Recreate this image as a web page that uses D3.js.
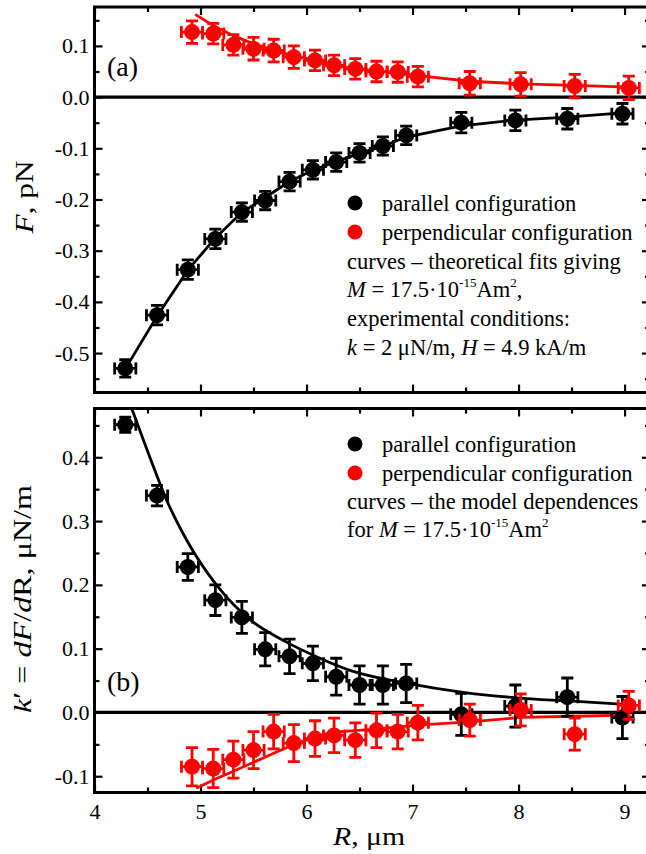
<!DOCTYPE html>
<html lang="en">
<head>
<meta charset="UTF-8">
<title>Force and stiffness vs distance</title>
<script src="https://cdnjs.cloudflare.com/ajax/libs/d3/7.8.5/d3.min.js"></script>
<style>
  body { margin: 0; background: #fff; }
  svg { display: block; font-family: "Liberation Serif", "Times New Roman", serif; }
  .frame { fill: none; stroke: #000; stroke-width: 3px; }
  .tick line { stroke: #000; stroke-width: 2.2px; }
  .tick text { font-size: 22px; fill: #000; }
  .zero { stroke: #000; stroke-width: 3.2px; }
  .fit { fill: none; stroke-width: 2.8px; }
  .err { stroke-width: 2.8px; fill: none; }
  .legend { font-size: 22.5px; }
</style>
</head>
<body>
<svg id="chart" width="646" height="854"></svg>
<script>
// distances R, um
const R_PAR  = [4.29, 4.59, 4.88, 5.14, 5.39, 5.61, 5.84, 6.06, 6.28, 6.50, 6.72, 6.94, 7.46, 7.97, 8.46, 8.98];
const R_PERP = [4.92, 5.12, 5.31, 5.50, 5.69, 5.88, 6.08, 6.26, 6.46, 6.66, 6.86, 7.05, 7.54, 8.02, 8.53, 9.04];
const R_ERR = 0.1;

// (a) force F, pN
const F_PAR      = [-0.530, -0.426, -0.337, -0.277, -0.2245, -0.202, -0.165, -0.142, -0.127, -0.109, -0.0955, -0.0748, -0.050, -0.0455, -0.0423, -0.0325];
const F_PAR_ERR  = [0.017, 0.019, 0.019, 0.019, 0.018, 0.018, 0.018, 0.018, 0.018, 0.018, 0.018, 0.018, 0.020, 0.020, 0.020, 0.020];
const F_PERP     = [0.127, 0.124, 0.102, 0.0945, 0.091, 0.078, 0.0717, 0.062, 0.055, 0.050, 0.049, 0.040, 0.027, 0.025, 0.0215, 0.018];
const F_PERP_ERR = [0.022, 0.020, 0.020, 0.022, 0.022, 0.022, 0.020, 0.020, 0.020, 0.020, 0.020, 0.020, 0.023, 0.023, 0.023, 0.023];

const F_PAR_FIT_R  = [4.31, 4.59, 4.88, 5.14, 5.39, 5.61, 5.84, 6.06, 6.28, 6.50, 6.72, 6.94, 7.46, 7.97, 8.46, 8.98];
const F_PAR_FIT    = [-0.524, -0.428, -0.338, -0.275, -0.225, -0.196, -0.165, -0.143, -0.126, -0.110, -0.096, -0.078, -0.056, -0.045, -0.039, -0.031];
const F_PERP_FIT_R = [4.95, 5.12, 5.31, 5.50, 5.69, 5.88, 6.08, 6.26, 6.46, 6.66, 6.86, 7.05, 7.54, 8.02, 8.53, 9.04];
const F_PERP_FIT   = [0.1615, 0.140, 0.120, 0.104, 0.091, 0.081, 0.072, 0.062, 0.055, 0.051, 0.047, 0.042, 0.031, 0.026, 0.023, 0.0195];

// (b) stiffness k' = dF/dR, uN/m
const K_PAR      = [0.451, 0.340, 0.228, 0.176, 0.149, 0.099, 0.088, 0.077, 0.056, 0.043, 0.043, 0.0455, -0.003, 0.010, 0.024, -0.008];
const K_PAR_ERR  = [0.012, 0.016, 0.021, 0.024, 0.025, 0.026, 0.027, 0.027, 0.029, 0.030, 0.030, 0.030, 0.033, 0.033, 0.030, 0.033];
const K_PERP     = [-0.085, -0.088, -0.074, -0.059, -0.030, -0.048, -0.041, -0.036, -0.0435, -0.028, -0.030, -0.016, -0.012, 0.004, -0.034, 0.011];
const K_PERP_ERR = [0.030, 0.030, 0.029, 0.029, 0.027, 0.029, 0.028, 0.027, 0.027, 0.027, 0.027, 0.027, 0.025, 0.025, 0.025, 0.022];

const K_PAR_MODEL_R  = [4.35, 4.52, 4.68, 4.87, 5.15, 5.47, 5.78, 6.10, 6.41, 6.94, 7.46, 7.98, 8.47, 8.98];
const K_PAR_MODEL    = [0.477, 0.401, 0.333, 0.270, 0.200, 0.145, 0.113, 0.087, 0.066, 0.046, 0.032, 0.023, 0.018, 0.013];
const K_PERP_MODEL_R = [4.96, 5.12, 5.30, 5.49, 5.69, 5.87, 6.08, 6.25, 6.66, 7.04, 7.54, 8.02, 8.53, 9.03];
const K_PERP_MODEL   = [-0.119, -0.106, -0.093, -0.079, -0.064, -0.051, -0.038, -0.031, -0.026, -0.020, -0.0147, -0.0078, -0.006, -0.0042];

const X_TICKS = [4, 5, 6, 7, 8, 9];
const X_MINOR = [4.5, 5.5, 6.5, 7.5, 8.5];
const A_Y_TICKS = [-0.5, -0.4, -0.3, -0.2, -0.1, 0, 0.1];
const A_Y_MINOR = [-0.55, -0.45, -0.35, -0.25, -0.15, -0.05, 0.05, 0.15];
const B_Y_TICKS = [-0.1, 0, 0.1, 0.2, 0.3, 0.4];
const B_Y_MINOR = [-0.05, 0.05, 0.15, 0.25, 0.35, 0.45];

const svg = d3.select("#chart");
const x = d3.scaleLinear().domain([4, 9.24]).range([94.5, 650]);
const fmt = d => d.toFixed(1);

function drawPanel(p) {
  const y = d3.scaleLinear().domain(p.yDomain).range([p.bottom, p.top]);
  const g = svg.append("g");
  const x0 = x.range()[0], x1 = x.range()[1];

  g.append("clipPath").attr("id", p.id + "-clip")
    .append("rect").attr("x", x0).attr("y", p.top).attr("width", x1 - x0).attr("height", p.bottom - p.top);

  // ticks, all pointing inward
  const clean = sel => sel.attr("font-size", null).attr("font-family", null).call(s => s.select(".domain").remove());
  g.append("g").attr("transform", `translate(${x0},0)`)
    .call(d3.axisLeft(y).tickValues(p.yTicks).tickSize(-8).tickPadding(5).tickFormat(fmt)).call(clean);
  g.append("g").attr("transform", `translate(${x0},0)`)
    .call(d3.axisLeft(y).tickValues(p.yMinor).tickSize(-5).tickFormat("")).call(clean);
  g.append("g").attr("transform", `translate(${x1},0)`)
    .call(d3.axisRight(y).tickValues(p.yTicks).tickSize(-8).tickFormat("")).call(clean);
  g.append("g").attr("transform", `translate(${x1},0)`)
    .call(d3.axisRight(y).tickValues(p.yMinor).tickSize(-5).tickFormat("")).call(clean);
  g.append("g").attr("transform", `translate(0,${p.bottom})`)
    .call(d3.axisBottom(x).tickValues(X_TICKS).tickSize(-8).tickPadding(11).tickFormat(p.xLabels ? d3.format("d") : "")).call(clean);
  g.append("g").attr("transform", `translate(0,${p.bottom})`)
    .call(d3.axisBottom(x).tickValues(X_MINOR).tickSize(-5).tickFormat("")).call(clean);
  g.append("g").attr("transform", `translate(0,${p.top})`)
    .call(d3.axisTop(x).tickValues(X_TICKS).tickSize(-8).tickFormat("")).call(clean);
  g.append("g").attr("transform", `translate(0,${p.top})`)
    .call(d3.axisTop(x).tickValues(X_MINOR).tickSize(-5).tickFormat("")).call(clean);

  g.append("rect").attr("class", "frame")
    .attr("x", x0).attr("y", p.top).attr("width", x1 - x0).attr("height", p.bottom - p.top);
  g.append("line").attr("class", "zero")
    .attr("x1", x0).attr("x2", x1).attr("y1", y(0)).attr("y2", y(0));

  const plot = g.append("g").attr("clip-path", `url(#${p.id}-clip)`);
  const line = d3.line().x(d => x(d[0])).y(d => y(d[1]));

  p.series.forEach(s => {
    plot.append("path").attr("class", "fit").attr("stroke", s.color)
      .attr("d", line.curve(s.curve || d3.curveLinear)(d3.zip(s.fitR, s.fit)));
  });

  p.series.forEach(s => {
    const pts = s.r.map((r, i) => ({ r, v: s.v[i], e: s.e[i] }));
    const pg = plot.selectAll(null).data(pts).enter().append("g")
      .attr("class", "err").attr("stroke", s.color);
    pg.append("path").attr("d", d => {
      const cx = x(d.r), cy = y(d.v), yt = y(d.v + d.e), yb = y(d.v - d.e);
      const xl = x(d.r - R_ERR), xr = x(d.r + R_ERR);
      return `M${cx},${yt}V${yb}M${cx - 6},${yt}H${cx + 6}M${cx - 6},${yb}H${cx + 6}` +
             `M${xl},${cy}H${xr}M${xl},${cy - 6}V${cy + 6}M${xr},${cy - 6}V${cy + 6}`;
    });
    pg.append("circle").attr("cx", d => x(d.r)).attr("cy", d => y(d.v)).attr("r", 8)
      .attr("fill", s.color).attr("stroke", "none");
  });
  return y;
}

drawPanel({
  id: "pa", top: 7, bottom: 392.5, yDomain: [-0.577, 0.176],
  yTicks: A_Y_TICKS, yMinor: A_Y_MINOR, xLabels: false,
  series: [
    { color: "#000", r: R_PAR, v: F_PAR, e: F_PAR_ERR, fitR: F_PAR_FIT_R, fit: F_PAR_FIT },
    { color: "#ff0000", r: R_PERP, v: F_PERP, e: F_PERP_ERR, fitR: F_PERP_FIT_R, fit: F_PERP_FIT }
  ]
});

drawPanel({
  id: "pb", top: 408.5, bottom: 792.5, yDomain: [-0.1255, 0.4765],
  yTicks: B_Y_TICKS, yMinor: B_Y_MINOR, xLabels: true,
  series: [
    { color: "#000", r: R_PAR, v: K_PAR, e: K_PAR_ERR, fitR: K_PAR_MODEL_R, fit: K_PAR_MODEL, curve: d3.curveMonotoneX },
    { color: "#ff0000", r: R_PERP, v: K_PERP, e: K_PERP_ERR, fitR: K_PERP_MODEL_R, fit: K_PERP_MODEL }
  ]
});

// text helper: segments [text, style] where style is "i" italic or "sup"
function richText(parent, xPos, yPos, segs, cls) {
  const t = parent.append("text").attr("x", xPos).attr("y", yPos).attr("class", cls);
  let raised = false;
  segs.forEach(([txt, st]) => {
    const ts = t.append("tspan").text(txt);
    if (st === "i") ts.attr("font-style", "italic");
    if (st === "sup" && !raised) { ts.attr("dy", -10).attr("font-size", 13); raised = true; }
    else if (st === "sup") ts.attr("font-size", 13);
    else if (raised) { ts.attr("dy", 10); raised = false; }
  });
  return t;
}

// panel labels
svg.append("text").attr("x", 107).attr("y", 76).attr("font-size", 28).text("(a)");
svg.append("text").attr("x", 107).attr("y", 691).attr("font-size", 28).text("(b)");

// axis titles
richText(svg, 0, 0, [["F", "i"], [", pN"]], "")
  .attr("font-size", 25).attr("text-anchor", "middle")
  .attr("textLength", 73).attr("lengthAdjust", "spacingAndGlyphs")
  .attr("transform", "translate(33,197) rotate(-90)");
richText(svg, 0, 0, [["k", "i"], ["\u2032 = "], ["dF", "i"], ["/"], ["d", "i"], ["R, \u03bcN/m"]], "")
  .attr("font-size", 25).attr("text-anchor", "middle")
  .attr("textLength", 228).attr("lengthAdjust", "spacingAndGlyphs")
  .attr("transform", "translate(31,599) rotate(-90)");
richText(svg, 369, 845, [["R", "i"], [", \u03bcm"]], "")
  .attr("font-size", 25).attr("text-anchor", "middle")
  .attr("textLength", 72).attr("lengthAdjust", "spacingAndGlyphs");

// legends
const leg = svg.append("g");
leg.append("circle").attr("cx", 355).attr("cy", 203).attr("r", 7.5).attr("fill", "#000");
leg.append("circle").attr("cx", 355).attr("cy", 232).attr("r", 7.5).attr("fill", "#ff0000");
richText(leg, 382, 211, [["parallel configuration"]], "legend");
richText(leg, 382, 240, [["perpendicular configuration"]], "legend");
richText(leg, 347, 269, [["curves \u2013 theoretical fits giving"]], "legend");
richText(leg, 347, 297, [["M", "i"], [" = 17.5\u00b710"], ["-15", "sup"], ["Am"], ["2", "sup"], [","]], "legend");
richText(leg, 347, 326, [["experimental conditions:"]], "legend");
richText(leg, 347, 355, [["k", "i"], [" = 2 \u03bcN/m, "], ["H", "i"], [" = 4.9 kA/m"]], "legend");

leg.append("circle").attr("cx", 355).attr("cy", 444).attr("r", 7.5).attr("fill", "#000");
leg.append("circle").attr("cx", 355).attr("cy", 473).attr("r", 7.5).attr("fill", "#ff0000");
richText(leg, 382, 452, [["parallel configuration"]], "legend");
richText(leg, 382, 481, [["perpendicular configuration"]], "legend");
richText(leg, 347, 509, [["curves \u2013 the model dependences"]], "legend");
richText(leg, 347, 537, [["for "], ["M", "i"], [" = 17.5\u00b710"], ["-15", "sup"], ["Am"], ["2", "sup"]], "legend");
</script>
</body>
</html>
